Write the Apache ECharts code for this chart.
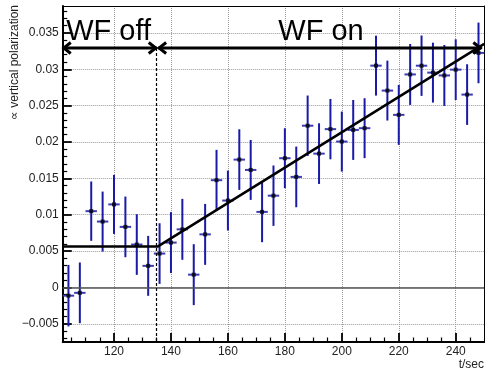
<!DOCTYPE html>
<html><head><meta charset="utf-8">
<script src="https://cdn.jsdelivr.net/npm/echarts@6/dist/echarts.min.js"></script>
<style>html,body{margin:0;padding:0;background:#fff}#c{width:485px;height:369px}</style>
</head><body><div id="c"></div>
<script>
// ---- data ----
const times = [104,108,112,116,120,124,128,132,136,140,144,148,152,156,160,164,168,172,176,180,184,188,192,196,200,204,208,212,216,220,224,228,232,236,240,244,248];
const values = [-0.00113,-0.00074,0.01049,0.00906,0.01142,0.00833,0.0059,0.00297,0.00466,0.00617,0.00799,0.00176,0.0073,0.01475,0.01195,0.01758,0.01616,0.01039,0.01262,0.01777,0.0152,0.02224,0.0184,0.02177,0.02006,0.02166,0.0219,0.0305,0.02707,0.02373,0.02929,0.03049,0.02954,0.02915,0.02995,0.02652,0.03225];
const errors = [0.00423,0.00417,0.00408,0.00412,0.00406,0.00417,0.00417,0.00412,0.00417,0.00419,0.00419,0.00419,0.00419,0.00417,0.00412,0.00417,0.00412,0.00417,0.00415,0.00412,0.00417,0.00415,0.00417,0.00415,0.00412,0.00412,0.00412,0.00412,0.00412,0.00412,0.00419,0.00415,0.00412,0.00419,0.00417,0.00417,0.00417];
const halfBin = 2;
const fitT = [102, 135.3, 250];
const fitV = [0.00562, 0.00562, 0.0335];
const switchT = 135;
const arrowY = 0.03293;
const labelY = 0.0351;
const annotFrom = [102, 135.5];
const annotTo = [135, 249];
const annotLabelT = [103.2, 177.7];
const annotLabels = ['WF off', 'WF on'];
const xMajorTicks = [120,140,160,180,200,220,240];
const xMinorTicks = [];
for (let t = 105; t < 250; t += 5) if (t % 20 !== 0) xMinorTicks.push(t);
const yMajorTicks = [-0.005,0,0.005,0.01,0.015,0.02,0.025,0.03,0.035];
const yMinorTicks = [];
for (let k = -7; k <= 38; k++) if (k % 5 !== 0) yMinorTicks.push(k / 1000);
const xRange = [102, 250];
const yRange = [-0.0075, 0.0387];

const FONT = '"Liberation Sans", Arial, Helvetica, sans-serif';
const chart = echarts.init(document.getElementById('c'), null, {renderer: 'canvas'});

const gridLine = {show: true, lineStyle: {color: '#9a9a9a', width: 1, type: [1, 1]}};
const noShow = {show: false};

const option = {
  animation: false,
  grid: {left: 62.75, right: 0.8, top: 6, bottom: 27},
  xAxis: [
    {type: 'value', min: xRange[0], max: xRange[1], position: 'bottom',
     axisLine: {show: true, onZero: false, lineStyle: {color: '#000', width: 2}},
     axisTick: {show: true, inside: true, length: 9, customValues: xMajorTicks, lineStyle: {color: '#000', width: 1.8}},
     axisLabel: {show: true, customValues: xMajorTicks, margin: 4, fontSize: 12, fontFamily: FONT, color: '#222'},
     splitLine: gridLine},
    {type: 'value', min: xRange[0], max: xRange[1], position: 'bottom',
     axisLine: {show: false, onZero: false},
     axisTick: {show: true, inside: true, length: 4.5, customValues: xMinorTicks, lineStyle: {color: '#000', width: 1.2}},
     axisLabel: noShow, splitLine: noShow},
    {type: 'value', min: xRange[0], max: xRange[1], position: 'top',
     axisLine: {show: true, onZero: false, lineStyle: {color: '#000', width: 1}},
     axisTick: noShow, axisLabel: noShow, splitLine: noShow}
  ],
  yAxis: [
    {type: 'value', min: yRange[0], max: yRange[1], position: 'left',
     axisLine: {show: true, onZero: false, lineStyle: {color: '#000', width: 2}},
     axisTick: {show: true, inside: true, length: 9, customValues: yMajorTicks, lineStyle: {color: '#000', width: 1.8}},
     axisLabel: {show: true, customValues: yMajorTicks, margin: 4, fontSize: 12, fontFamily: FONT, color: '#222',
       formatter: v => String(+(+v).toFixed(4)).replace('-', '\u2212')},
     splitLine: gridLine},
    {type: 'value', min: yRange[0], max: yRange[1], position: 'left',
     axisLine: {show: false, onZero: false},
     axisTick: {show: true, inside: true, length: 4.5, customValues: yMinorTicks, lineStyle: {color: '#000', width: 1.2}},
     axisLabel: noShow, splitLine: noShow},
    {type: 'value', min: yRange[0], max: yRange[1], position: 'right',
     axisLine: {show: true, onZero: false, lineStyle: {color: '#000', width: 1}},
     axisTick: noShow, axisLabel: noShow, splitLine: noShow}
  ],
  series: [
    {
      type: 'custom', name: 'errors', z: 3,
      data: times.map((t, i) => [t, values[i], errors[i]]),
      renderItem(params, api) {
        const t = api.value(0), v = api.value(1), e = api.value(2);
        const top = api.coord([t, v + e]), bot = api.coord([t, v - e]);
        const l = api.coord([t - halfBin, v]), r = api.coord([t + halfBin, v]);
        return {type: 'group', children: [
          {type: 'line', shape: {x1: top[0], y1: top[1], x2: bot[0], y2: bot[1]}, style: {stroke: '#1a1aa8', lineWidth: 2}},
          {type: 'line', shape: {x1: l[0], y1: l[1], x2: r[0], y2: r[1]}, style: {stroke: '#3a3ab8', lineWidth: 2}}
        ]};
      },
      markLine: {
        silent: true, symbol: 'none', label: {show: false},
        data: [
          [{coord: [xRange[0], 0], lineStyle: {color: '#555', width: 1.5, type: 'solid'}}, {coord: [xRange[1], 0]}],
          [{coord: [switchT, arrowY], lineStyle: {color: '#000', width: 1.2, type: [3, 2]}}, {coord: [switchT, yRange[0]]}]
        ]
      }
    },
    {
      type: 'scatter', name: 'points', z: 4, symbol: 'rect', symbolSize: 4,
      itemStyle: {color: '#000'},
      data: times.map((t, i) => [t, values[i]])
    },
    {
      type: 'line', name: 'fit', z: 5, showSymbol: false, symbol: 'none',
      lineStyle: {color: '#000', width: 2.5},
      data: fitT.map((t, i) => [t, fitV[i]])
    },
    {
      type: 'custom', name: 'annotations', z: 6,
      data: annotFrom.map((f, i) => [f, annotTo[i], annotLabelT[i]]),
      renderItem(params, api) {
        const a = api.coord([api.value(0), arrowY]), b = api.coord([api.value(1), arrowY]);
        const tp = api.coord([api.value(2), labelY]);
        const hl = 8, hw = 5.5;
        return {type: 'group', children: [
          {type: 'line', shape: {x1: a[0], y1: a[1], x2: b[0], y2: b[1]}, style: {stroke: '#000', lineWidth: 3}},
          {type: 'polyline', shape: {points: [[a[0] + hl, a[1] - hw], [a[0] + 1, a[1]], [a[0] + hl, a[1] + hw]]}, style: {stroke: '#000', lineWidth: 3, fill: null}},
          {type: 'polyline', shape: {points: [[b[0] - hl, b[1] - hw], [b[0] - 1, b[1]], [b[0] - hl, b[1] + hw]]}, style: {stroke: '#000', lineWidth: 3, fill: null}},
          {type: 'text', x: tp[0], y: tp[1], style: {text: annotLabels[params.dataIndex], font: '29px ' + FONT, fill: '#000', align: 'left', verticalAlign: 'middle'}}
        ]};
      }
    }
  ],
  graphic: [
    {type: 'text', x: 14.3, y: 5, rotation: Math.PI / 2,
     style: {text: '\u221d vertical polarization', font: '12px ' + FONT, fill: '#222', align: 'right', verticalAlign: 'middle'}},
    {type: 'text', x: 484, y: 364.5,
     style: {text: 't/sec', font: '12px ' + FONT, fill: '#222', align: 'right', verticalAlign: 'middle'}}
  ]
};
chart.setOption(option);
</script>
</body></html>
